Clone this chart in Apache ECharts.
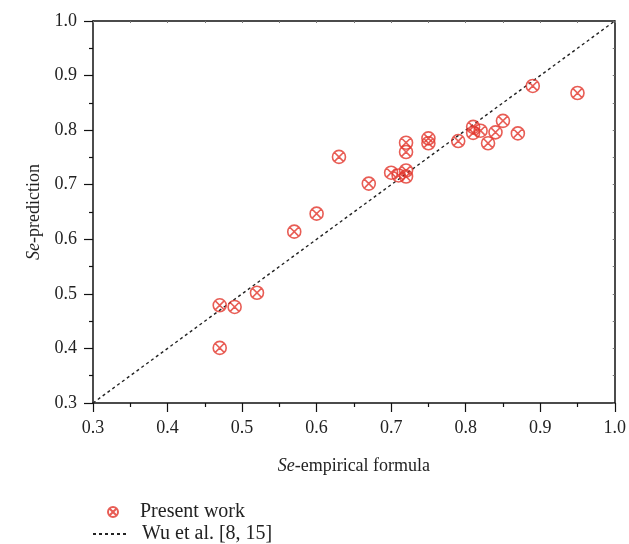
<!DOCTYPE html>
<html>
<head>
<meta charset="utf-8">
<script src="https://cdn.jsdelivr.net/npm/echarts@6/dist/echarts.min.js"></script>
<style>
  html, body { margin: 0; padding: 0; background: #fff; }
  #chart { width: 629px; height: 544px; }
</style>
</head>
<body>
<div id="chart"></div>
<script>
// Se from the empirical formula (x) vs. Se predicted by the model (y)
const empirical = [0.47, 0.47, 0.49, 0.52, 0.57, 0.60, 0.63, 0.67, 0.70, 0.71,
                   0.72, 0.72, 0.72, 0.72, 0.75, 0.75, 0.79, 0.81, 0.81, 0.82,
                   0.83, 0.84, 0.85, 0.87, 0.89, 0.95];
const predicted = [0.401, 0.479, 0.476, 0.502, 0.614, 0.647, 0.751, 0.702, 0.722, 0.717,
                   0.715, 0.726, 0.760, 0.777, 0.776, 0.785, 0.780, 0.795, 0.806, 0.799,
                   0.776, 0.796, 0.817, 0.794, 0.881, 0.868];
// reference line y = x
const refLineX = [0.3, 1.0];
const tickLabels = ['0.3', '0.4', '0.5', '0.6', '0.7', '0.8', '0.9', '1.0'];

const seriesNames = ['Present work', 'Wu et al. [8, 15]'];

const font = "'Liberation Serif', 'DejaVu Serif', serif";
const red = '#e2352b';
const ink = '#222';

// circle with a cross inside
const crossCircle = 'path://M0,-10 A10,10 0 1,1 0,10 A10,10 0 1,1 0,-10 Z M-7.6,-7.6 L7.6,7.6 M7.6,-7.6 L-7.6,7.6';

const points = empirical.map((x, i) => [x, predicted[i]]);
const refLine = refLineX.map(v => [v, v]);

function mainAxis(pos, name, gap) {
  return {
    type: 'value', position: pos, min: 0.3, max: 1.0, interval: 0.1,
    name: name, nameLocation: 'middle', nameGap: gap,
    nameTextStyle: {
      fontFamily: font, fontSize: 18, color: ink,
      rich: { i: { fontFamily: font, fontSize: 18, fontStyle: 'italic', color: ink } }
    },
    axisLine: { show: true, onZero: false, lineStyle: { color: '#111', width: 1.5 } },
    axisTick: { show: true, inside: false, length: 9, lineStyle: { color: '#111', width: 1.2 } },
    minorTick: { show: true, splitNumber: 2, length: 4, lineStyle: { color: '#111', width: 1.2 } },
    axisLabel: {
      fontFamily: font, fontSize: 18, color: ink, margin: 16,
      formatter: v => tickLabels[Math.round((v - 0.3) * 10)] || ''
    },
    splitLine: { show: false }
  };
}

function frameAxis(pos) {
  return {
    type: 'value', position: pos, min: 0.3, max: 1.0, interval: 0.1,
    axisLine: { show: true, onZero: false, lineStyle: { color: '#111', width: 1.5 } },
    axisTick: { show: true, inside: true, length: 2, lineStyle: { color: '#777', width: 1 } },
    minorTick: { show: true, splitNumber: 2, length: 2, lineStyle: { color: '#777', width: 1 } },
    axisLabel: { show: false },
    splitLine: { show: false }
  };
}

function legendRow(name, left, top, textPad, extra) {
  return {
    orient: 'vertical', left: left, top: top,
    itemWidth: 34, itemHeight: 10, padding: 0,
    textStyle: { fontFamily: font, fontSize: 20, color: ink, padding: [0, 0, 0, textPad] },
    data: [Object.assign({ name: name }, extra || {})]
  };
}

const chart = echarts.init(document.getElementById('chart'), null, { renderer: 'canvas' });
chart.setOption({
  animation: false,
  backgroundColor: '#fff',
  grid: { left: 93, right: 14, top: 21, bottom: 141 },
  xAxis: [
    mainAxis('bottom', '{i|Se}-empirical formula', 54),
    frameAxis('top')
  ],
  yAxis: [
    mainAxis('left', '{i|Se}-prediction', 47),
    frameAxis('right')
  ],
  legend: [
    legendRow(seriesNames[0], 107, 502, 5),
    legendRow(seriesNames[1], 92, 524, 10, { itemStyle: { opacity: 0 } })
  ],
  series: [
    {
      name: seriesNames[1], type: 'line', data: refLine,
      xAxisIndex: 0, yAxisIndex: 0,
      symbol: 'none', silent: true,
      itemStyle: { color: ink },
      lineStyle: { color: ink, width: 1.4, type: [3, 3] },
      z: 1
    },
    {
      name: seriesNames[0], type: 'scatter', data: points,
      xAxisIndex: 0, yAxisIndex: 0,
      symbol: crossCircle, symbolSize: 13,
      itemStyle: { color: 'rgba(0,0,0,0)', borderColor: red, borderWidth: 1.6 },
      z: 3
    }
  ]
});
</script>
</body>
</html>
